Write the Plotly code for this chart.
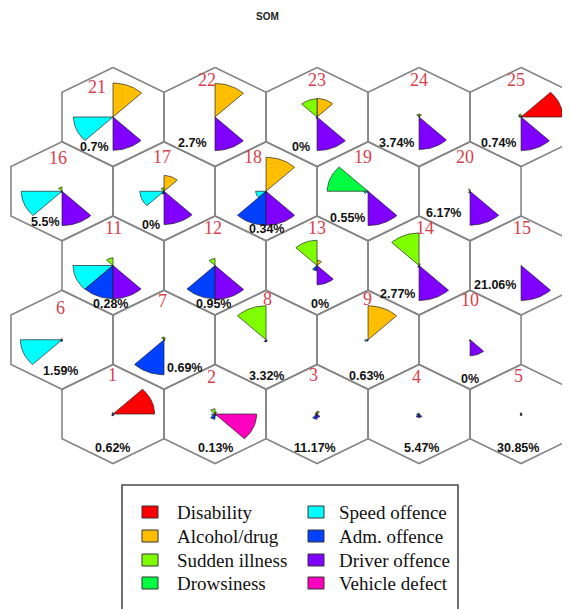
import math
import plotly.graph_objects as go

# ---------------- data ----------------
categories = ["Disability", "Alcohol/drug", "Sudden illness", "Drowsiness",
              "Speed offence", "Adm. offence", "Driver offence", "Vehicle defect"]
colors = ["#FF0000", "#FFBF00", "#80FF00", "#00FF40",
          "#00FFFF", "#0040FF", "#8000FF", "#FF00BF"]

nodes = list(range(1, 26))
percent_labels = ["0.62%", "0.13%", "11.17%", "5.47%", "30.85%",
                  "1.59%", "0.69%", "3.32%", "0.63%", "0%",
                  "0.28%", "0.95%", "0%", "2.77%", "21.06%",
                  "5.5%", "0%", "0.34%", "0.55%", "6.17%",
                  "0.7%", "2.7%", "0%", "3.74%", "0.74%"]

# component planes (relative values, node 1..25)
disability     = [1.00, 0, 0, 0, 0,  0, 0, 0, 0, 0,  0, 0, 0, 0, 0,  0, 0, 0, 0, 0,  0, 0, 0, 0, 1.00]
alcohol_drug   = [0, 0.06, 0.08, 0, 0.03,  0, 0.05, 0, 0.97, 0,  0, 0, 0.15, 0.05, 0,  0, 0.45, 0.97, 0, 0,  0.97, 0.96, 0.53, 0.08, 0.04]
sudden_illness = [0.04, 0.15, 0.05, 0.03, 0.03,  0.03, 0.08, 0.97, 0, 0,  0.22, 0.20, 0.72, 0.93, 0,  0.12, 0.10, 0, 0, 0.06,  0, 0, 0.52, 0.08, 0.08]
drowsiness     = [0, 0, 0, 0, 0,  0, 0, 0, 0, 0,  0, 0, 0, 0, 0,  0, 0, 0, 0.98, 0,  0, 0, 0, 0, 0.06]
speed_offence  = [0, 0.08, 0.05, 0.06, 0,  1.00, 0, 0, 0.08, 0,  0.96, 0, 0, 0, 0,  0.98, 0.58, 0.25, 0.10, 0,  0.95, 0, 0, 0, 0]
adm_offence    = [0.05, 0.15, 0.15, 0.10, 0.04,  0.05, 1.00, 0.06, 0.04, 0.03,  0.95, 0.95, 0.15, 0.05, 0,  0.03, 0.08, 0.97, 0.03, 0.05,  0, 0, 0.04, 0, 0]
driver_offence = [0.04, 0.05, 0.10, 0.10, 0.04,  0.03, 0.03, 0.05, 0, 0.46,  0.95, 0.97, 0.55, 1.00, 1.00,  0.98, 0.95, 0.97, 0.98, 0.97,  0.95, 0.96, 0.96, 0.93, 0.96]
vehicle_defect = [0, 1.00, 0, 0, 0,  0, 0, 0, 0, 0,  0, 0, 0, 0, 0,  0, 0, 0, 0, 0,  0, 0, 0, 0, 0]

planes = [disability, alcohol_drug, sudden_illness, drowsiness,
          speed_offence, adm_offence, driver_offence, vehicle_defect]

# ---------------- layout helpers ----------------
W, H = 570, 609
OFF = 8                          # page offset of the figure (body margin)
PX_X, PX_Y = 58.9, 49.5          # pixels per data unit
X0_PX, Y0_PX = 62 - OFF, 414 - OFF   # figure-pixel position of data origin
x_range = [-X0_PX / PX_X, (W - X0_PX) / PX_X]
y_range = [(Y0_PX - H) / PX_Y, Y0_PX / PX_Y]
RMAX = 35 / PX_Y                 # radius of a full sector
S3 = math.sqrt(3)


def px(x):
    return (x - OFF) / W


def py(y):
    return 1 - (y - OFF) / H


def center(n):
    idx = n - 1
    row, col = idx // 5, idx % 5
    x = S3 * col + (S3 / 2 if row % 2 == 0 else 0)
    y = 1.5 * row
    return x, y


# text placement offsets (pixels)
pct_pos = [(-1, 34, "center"), (0, 34, "center"), (-2, 34, "center"), (2, 34, "center"), (-3, 34, "center"),
           (-2, 31, "center"), (1, 28, "left"), (0, 36, "center"), (-2, 36, "center"), (0, 39, "center"),
           (-3, 38, "center"), (-2, 38, "center"), (3, 38, "center"), (-2, 28, "right"), (-3, 19, "right"),
           (0, 31, "right"), (-2, 34, "right"), (0, 38, "center"), (-1, 27, "right"), (-7, 22, "right"),
           (-2, 30, "right"), (-6, 26, "right"), (-5, 30, "right"), (-3, 26, "right"), (-3, 26, "right")]
num_pos = [(-1, -39), (-4, -37), (-4, -39), (-3, -37), (-3, -38),
           (-2, -32), (-2, -39), (1, -41), (-1, -41), (0, -40),
           (0, -38), (-2, -38), (0, -38), (6, -38), (1, -38),
           (-4, -33), (-2, -34), (-13, -34), (-5, -34), (-5, -34),
           (-16, -30), (-8, -37), (0, -37), (0, -37), (-5, -37)]

fig = go.Figure()

# hexagon grid
hx, hy = [], []
for n in nodes:
    cx, cy = center(n)
    for a in [90, 30, -30, -90, -150, 150, 90]:
        t = math.radians(a)
        hx.append(cx + math.cos(t))
        hy.append(cy + math.sin(t))
    hx.append(None)
    hy.append(None)
fig.add_trace(go.Scatter(x=hx, y=hy, mode="lines",
                         line=dict(color="#858585", width=1.6),
                         hoverinfo="skip", showlegend=False))

# sectors (one trace per category)
for k, (name, col, vals) in enumerate(zip(categories, colors, planes)):
    sx, sy = [], []
    for n, v in zip(nodes, vals):
        if v <= 0:
            continue
        cx, cy = center(n)
        r = v * RMAX
        sx.append(cx)
        sy.append(cy)
        a0, a1 = 45 * k, 45 * (k + 1)
        steps = 24
        for s in range(steps + 1):
            t = math.radians(a0 + (a1 - a0) * s / steps)
            sx.append(cx + r * math.cos(t))
            sy.append(cy + r * math.sin(t))
        sx.append(cx)
        sy.append(cy)
        sx.append(None)
        sy.append(None)
    fig.add_trace(go.Scatter(x=sx, y=sy, mode="lines", fill="toself",
                             fillcolor=col, name=name,
                             line=dict(color="rgba(30,30,30,0.85)", width=0.8),
                             hoverinfo="skip", showlegend=False))

annotations = []
for n, txt, (dx, dy, anc), (ndx, ndy) in zip(nodes, percent_labels, pct_pos, num_pos):
    cx, cy = center(n)
    annotations.append(dict(x=cx + dx / PX_X, y=cy - dy / PX_Y, xref="x", yref="y",
                            text="<b>" + txt + "</b>", showarrow=False,
                            xanchor=anc, yanchor="middle",
                            font=dict(family="Liberation Sans", size=12.5, color="#111111")))
    annotations.append(dict(x=cx + ndx / PX_X, y=cy - ndy / PX_Y, xref="x", yref="y",
                            text=str(n), showarrow=False, xanchor="center", yanchor="middle",
                            font=dict(family="Liberation Serif", size=18, color="#d8404c")))

# title
annotations.append(dict(x=px(267), y=py(17), xref="paper", yref="paper",
                        text="<b>SOM</b>", showarrow=False, xanchor="center", yanchor="middle",
                        font=dict(family="Liberation Sans", size=10, color="#222222")))

# legend box
shapes = [dict(type="rect", xref="paper", yref="paper",
               x0=px(122), x1=px(458), y0=py(650), y1=py(485),
               line=dict(color="#4a4a4a", width=1.6), fillcolor="rgba(0,0,0,0)")]
row_y = [512, 536, 560, 583]
col_sw = [142, 308]
col_tx = [175, 337]
for k, (name, col) in enumerate(zip(categories, colors)):
    c, r = k // 4, k % 4
    yc = row_y[r]
    shapes.append(dict(type="rect", xref="paper", yref="paper",
                       x0=px(col_sw[c]), x1=px(col_sw[c] + 16),
                       y0=py(yc + 6), y1=py(yc - 6),
                       line=dict(color="#333333", width=1), fillcolor=col))
    annotations.append(dict(x=px(col_tx[c]), y=py(yc), xref="paper", yref="paper",
                            text=name, showarrow=False, xanchor="left", yanchor="middle",
                            font=dict(family="Liberation Serif", size=19, color="#111111")))

fig.update_layout(width=W, height=H, margin=dict(l=0, r=0, t=0, b=0),
                  paper_bgcolor="white", plot_bgcolor="white",
                  xaxis=dict(range=x_range, visible=False, fixedrange=True),
                  yaxis=dict(range=y_range, visible=False, fixedrange=True),
                  annotations=annotations, shapes=shapes, showlegend=False)

fig.write_html("out.html")
